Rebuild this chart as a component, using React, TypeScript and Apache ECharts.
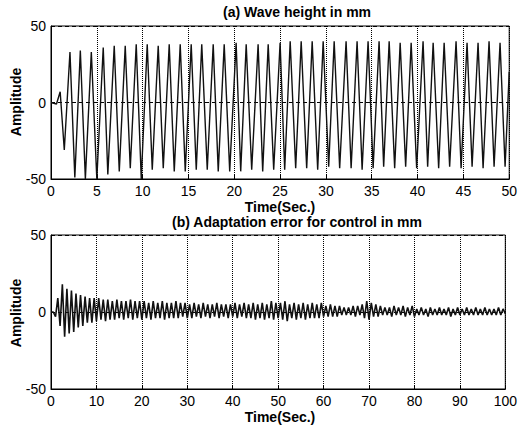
import React, { useEffect, useRef } from "react";
import * as echarts from "echarts";

// (a) Wave height in mm — turning points
const waveTimes = [
  0, 0.6, 1.0, 1.45,
  2.07, 2.6, 3.2, 3.75, 4.4, 5.0, 5.7, 6.2, 6.9, 7.45, 8.1, 8.65, 9.3, 9.85, 10.5, 11.05, 11.7, 12.25, 12.9, 13.45,
  14.1, 14.65, 15.3, 15.85, 16.45, 17.05, 17.7, 18.25, 18.9, 19.5, 20.2, 20.7, 21.3, 21.9, 22.6, 23.1, 23.7, 24.3, 25.0, 25.5,
  26.1, 26.7, 27.3, 27.9, 28.5, 29.1, 29.7, 30.3, 30.9, 31.5, 32.2, 32.75, 33.4, 33.95, 34.6, 35.15, 35.8, 36.3, 36.9, 37.5,
  38.1, 38.7, 39.3, 39.9, 40.6, 41.1, 41.7, 42.3, 42.9, 43.5, 44.2, 44.75, 45.4, 45.95, 46.6, 47.15, 47.8, 48.35, 49.0, 49.55,
  50.0,
];
const waveValues = [
  0, -1, 7, -31,
  33, -49, 34, -50, 33, -50, 36, -47, 37, -45, 37, -43, 38, -50, 38, -44, 37, -43, 38, -45,
  38, -45, 38, -44, 38, -44, 38, -45, 38, -45, 39, -45, 38, -44, 38, -45, 38, -44, 39, -44,
  40, -43, 40, -43, 40, -44, 40, -42, 40, -43, 40, -43, 40, -44, 40, -43, 40, -42, 40, -43,
  39, -42, 39, -43, 40, -42, 39, -43, 39, -42, 40, -43, 39, -42, 39, -43, 40, -42, 39, -42,
  20,
];

// (b) Adaptation error for control in mm — values every half second
const errorStep = 0.5;
const errorValues = [
  0, 0, -3, 9, -9, 18, -16, 15, -14, 14, -13,
  12, -10, 11, -9, 10, -7, 9, -7, 9, -6,
  9, -5, 8, -6, 8, -5, 7, -5, 8, -4,
  7, -5, 7, -4, 8, -5, 7, -4, 7, -5,
  7, -4, 6, -5, 7, -4, 6, -4, 7, -5,
  6, -4, 6, -4, 7, -4, 6, -3, 6, -4,
  5, -4, 6, -3, 5, -4, 6, -3, 5, -4,
  5, -3, 6, -4, 5, -3, 5, -4, 5, -3,
  6, -4, 5, -3, 6, -4, 5, -4, 6, -5,
  5, -4, 6, -5, 5, -4, 7, -5, 6, -4,
  6, -5, 7, -6, 5, -4, 6, -5, 5, -4,
  6, -5, 5, -4, 6, -4, 5, -4, 6, -3,
  4, -3, 5, -3, 4, -3, 4, -2, 3, -2,
  3, -2, 4, -3, 4, -2, 5, -4, 7, -5,
  6, -3, 5, -3, 4, -2, 3, -2, 3, -3,
  4, -2, 3, -2, 4, -3, 3, -2, 4, -3,
  2, -2, 3, -2, 2, -3, 3, -2, 2, -2,
  3, -2, 2, -2, 3, -3, 2, -2, 3, -2,
  2, -2, 3, -2, 2, -2, 3, -2, 2, -2,
  3, -2, 2, -2, 2, -2, 3, -2, 2, -1,
];

const yTicks = { min: -50, max: 50, interval: 50 };
const topX = { min: 0, max: 50, interval: 5 };
const bottomX = { min: 0, max: 100, interval: 10 };

export default function App() {
  const ref = useRef<HTMLDivElement>(null);
  useEffect(() => {
    document.body.style.margin = "0";
    if (!ref.current) return;
    const chart = echarts.init(ref.current, undefined, { renderer: "svg" });
    const font = "Liberation Sans";
    const waveData = waveTimes.map((t, i) => [t, waveValues[i]]);
    const errorData = errorValues.map((v, i) => [i * errorStep, v]);
    const xAxisCommon = (idx: number, r: { min: number; max: number; interval: number }) => ({
      type: "value",
      gridIndex: idx,
      min: r.min,
      max: r.max,
      interval: r.interval,
      axisLine: { show: true, onZero: false, lineStyle: { color: "#000", width: 1 } },
      axisTick: { show: true, inside: true, length: 4, lineStyle: { color: "#000" } },
      axisLabel: { color: "#000", fontSize: 14, fontFamily: font, margin: 5 },
      splitLine: { show: true, lineStyle: { type: "dotted", color: "#000", width: 1 } },
    });
    const yAxisCommon = (idx: number) => ({
      type: "value",
      gridIndex: idx,
      min: yTicks.min,
      max: yTicks.max,
      interval: yTicks.interval,
      axisLine: { show: true, onZero: false, lineStyle: { color: "#000", width: 1 } },
      axisTick: { show: true, inside: true, length: 4, lineStyle: { color: "#000" } },
      axisLabel: { color: "#000", fontSize: 14, fontFamily: font, margin: 5 },
      splitLine: { show: true, lineStyle: { type: [4, 3], color: "#000", width: 1 } },
    });
    const titleStyle = { color: "#000", fontSize: 14, fontWeight: "bold", fontFamily: font };
    chart.setOption({
      animation: false,
      backgroundColor: "#fff",
      title: [
        { text: "(a) Wave height in mm", left: 297, top: 5, textAlign: "center", textStyle: titleStyle, padding: 0 },
        { text: "Time(Sec.)", left: 280, top: 200, textAlign: "center", textStyle: titleStyle, padding: 0 },
        { text: "(b) Adaptation error for control in mm", left: 297, top: 215, textAlign: "center", textStyle: titleStyle, padding: 0 },
        { text: "Time(Sec.)", left: 280, top: 410, textAlign: "center", textStyle: titleStyle, padding: 0 },
      ],
      graphic: [
        {
          type: "text",
          x: 16,
          y: 102,
          rotation: Math.PI / 2,
          style: { text: "Amplitude", fill: "#000", font: `bold 14px "${font}"`, align: "center", verticalAlign: "middle" },
        },
        {
          type: "text",
          x: 16,
          y: 313,
          rotation: Math.PI / 2,
          style: { text: "Amplitude", fill: "#000", font: `bold 14px "${font}"`, align: "center", verticalAlign: "middle" },
        },
      ],
      grid: [
        { left: 51, top: 26, width: 459, height: 153, show: true, borderColor: "#000", borderWidth: 1, backgroundColor: "#fff" },
        { left: 51, top: 235, width: 459, height: 154, show: true, borderColor: "#000", borderWidth: 1, backgroundColor: "#fff" },
      ],
      xAxis: [xAxisCommon(0, topX), xAxisCommon(1, bottomX)],
      yAxis: [yAxisCommon(0), yAxisCommon(1)],
      series: [
        {
          type: "line",
          xAxisIndex: 0,
          yAxisIndex: 0,
          data: waveData,
          showSymbol: false,
          lineStyle: { color: "#111", width: 1.4 },
          silent: true,
        },
        {
          type: "line",
          xAxisIndex: 1,
          yAxisIndex: 1,
          data: errorData,
          showSymbol: false,
          lineStyle: { color: "#111", width: 1.6 },
          silent: true,
        },
      ],
    });
    return () => chart.dispose();
  }, []);
  return <div ref={ref} style={{ width: 520, height: 436 }} />;
}
